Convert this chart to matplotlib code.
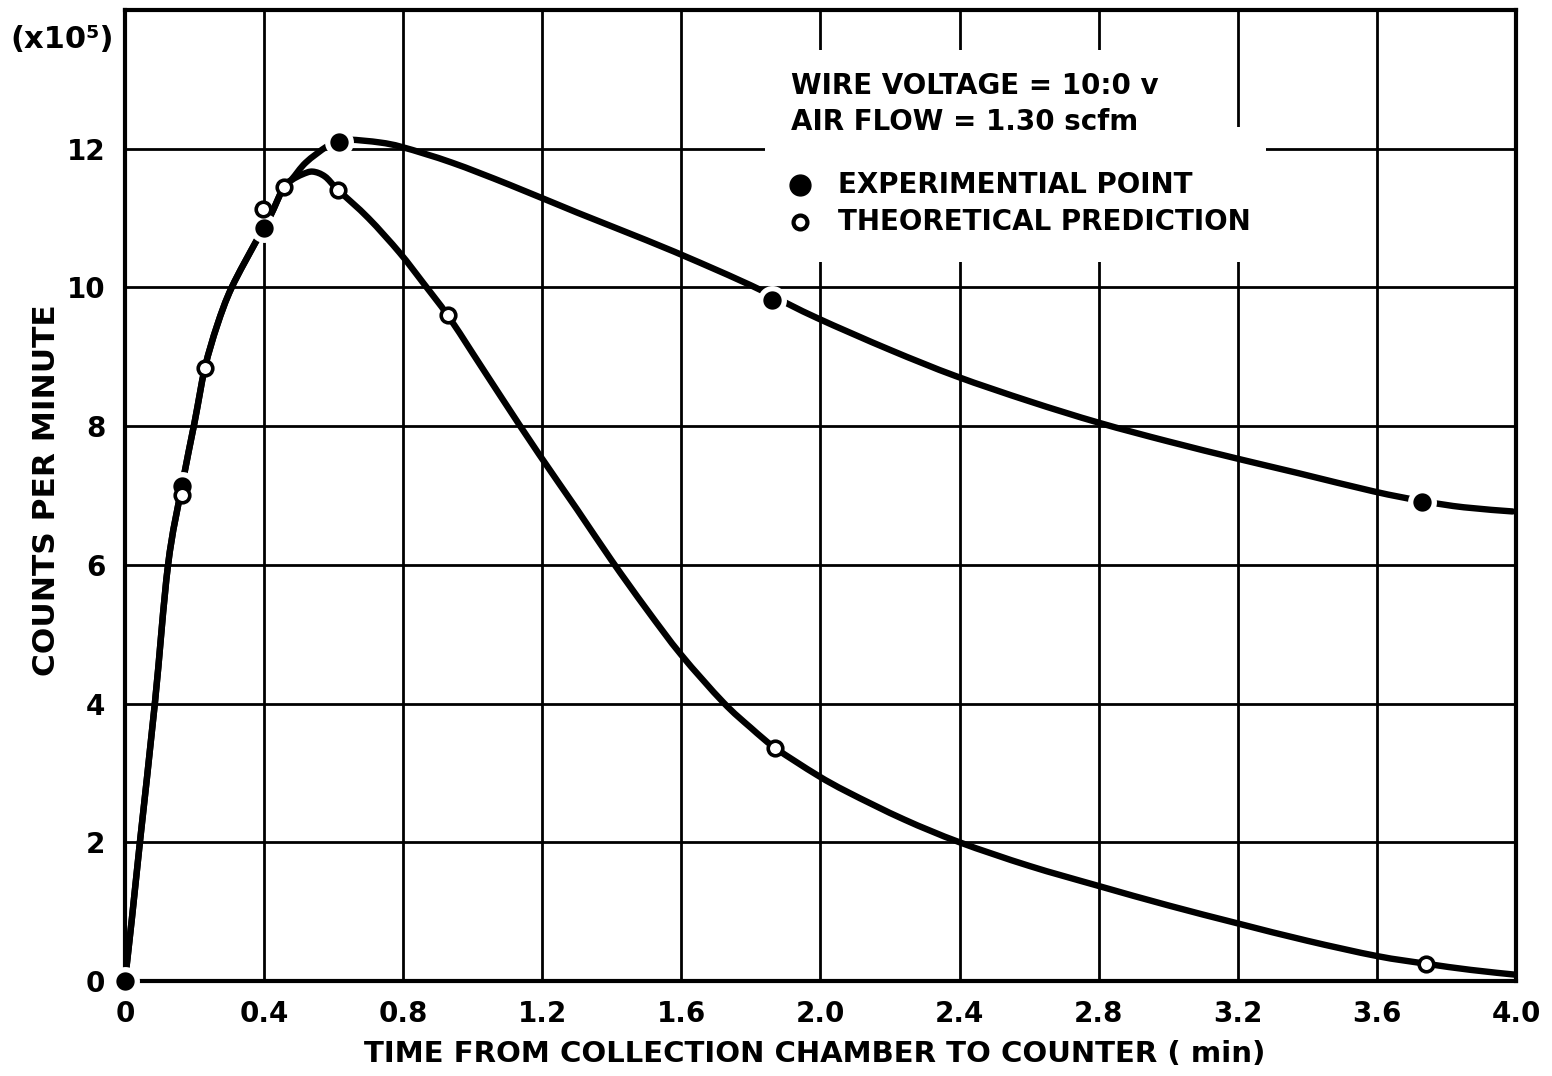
import numpy as np
from matplotlib import pyplot as plt
from matplotlib.patches import Rectangle, PathPatch
from matplotlib.path import Path

# measured points
exp_x = [0.0, 0.164, 0.40, 0.615, 1.86, 3.73]
exp_y = [0.0, 7.14, 10.85, 12.1, 9.82, 6.91]
theo_x = [0.164, 0.23, 0.397, 0.457, 0.612, 0.928, 1.87, 3.74]
theo_y = [7.0, 8.84, 11.13, 11.45, 11.41, 9.6, 3.36, 0.25]

# hand drawn curves
upper_x = [0.0, 0.02, 0.043, 0.086, 0.124, 0.164, 0.20, 0.23, 0.265, 0.307, 0.38, 0.417,
           0.457, 0.48, 0.52, 0.58, 0.615, 0.647, 0.733, 0.80, 0.94, 1.106, 1.30, 1.50,
           1.652, 1.80, 1.86, 1.99, 2.20, 2.39, 2.60, 2.80, 3.00, 3.20, 3.376, 3.59, 3.73,
           3.85, 3.99]
upper_y = [0.0, 0.9, 2.0, 4.0, 6.0, 7.14, 8.05, 8.84, 9.45, 10.0, 10.69, 11.02,
           11.45, 11.56, 11.8, 12.03, 12.1, 12.13, 12.09, 12.02, 11.8, 11.48, 11.08, 10.68,
           10.36, 10.03, 9.88, 9.56, 9.1, 8.72, 8.36, 8.05, 7.78, 7.53, 7.32, 7.06, 6.92,
           6.83, 6.77]
lower_x = [0.0, 0.02, 0.043, 0.086, 0.124, 0.164, 0.20, 0.23, 0.265, 0.307, 0.38, 0.417,
           0.457, 0.48, 0.51, 0.54, 0.575, 0.612, 0.70, 0.79, 0.86, 0.928, 1.0, 1.087,
           1.19, 1.30, 1.40, 1.50, 1.60, 1.72, 1.80, 1.87, 1.99, 2.08, 2.24, 2.40, 2.60,
           2.80, 3.00, 3.20, 3.40, 3.60, 3.74, 3.87, 4.0]
lower_y = [0.0, 0.9, 2.0, 4.0, 6.0, 7.14, 8.05, 8.84, 9.45, 10.0, 10.69, 11.02,
           11.45, 11.55, 11.63, 11.67, 11.6, 11.41, 11.0, 10.5, 10.05, 9.6, 9.05, 8.38,
           7.6, 6.8, 6.06, 5.36, 4.70, 4.02, 3.65, 3.36, 2.97, 2.72, 2.33, 2.0, 1.66,
           1.37, 1.09, 0.83, 0.58, 0.36, 0.25, 0.16, 0.09]

x_ticks = [0, 0.4, 0.8, 1.2, 1.6, 2.0, 2.4, 2.8, 3.2, 3.6, 4.0]
x_labels = ['0', '0.4', '0.8', '1.2', '1.6', '2.0', '2.4', '2.8', '3.2', '3.6', '4.0']
y_ticks = [0, 2, 4, 6, 8, 10, 12]
y_labels = ['0', '2', '4', '6', '8', '10', '12']


def french_curve(xs, ys):
    # smooth path through the read points (catmull-rom as bezier segments)
    p = np.column_stack([xs, ys]).astype(float)
    p = np.vstack([p[0], p, p[-1]])
    verts = [p[1]]
    codes = [Path.MOVETO]
    for i in range(1, len(p) - 2):
        c1 = p[i] + (p[i + 1] - p[i - 1]) / 6.0
        c2 = p[i + 1] - (p[i + 2] - p[i]) / 6.0
        verts += [c1, c2, p[i + 1]]
        codes += [Path.CURVE4] * 3
    return Path(verts, codes)


plt.rcParams['font.family'] = ['DejaVu Sans']
plt.rcParams['font.weight'] = 'bold'

fig = plt.figure(figsize=(15.52, 10.76), dpi=100)
ax = fig.add_axes([0.0805, 0.0883, 0.8963, 0.9024])
ax.set_xlim(0, 4.0)
ax.set_ylim(0, 14)

# grid every 0.4 x 2
for gx in np.arange(0.4, 4.0, 0.4):
    ax.axvline(gx, color='black', lw=2.0, zorder=1)
for gy in range(2, 14, 2):
    ax.axhline(gy, color='black', lw=2.0, zorder=1)

# blank area behind the note
ax.add_patch(Rectangle((1.84, 10.36), 1.44, 1.96, facecolor='white', edgecolor='none', zorder=2))
ax.add_patch(Rectangle((1.84, 12.3), 1.26, 1.13, facecolor='white', edgecolor='none', zorder=2))

for xs, ys in [(upper_x, upper_y), (lower_x, lower_y)]:
    ax.add_patch(PathPatch(french_curve(xs, ys), fill=False, edgecolor='black', lw=4.6,
                           capstyle='round', joinstyle='round', zorder=3))

ax.plot(exp_x, exp_y, 'o', color='black', ms=17, mec='white', mew=3.8,
        zorder=5, clip_on=False)
ax.plot(theo_x, theo_y, 'o', mfc='white', mec='black', ms=10.5, mew=2.6,
        zorder=6, clip_on=False)

for s in ax.spines.values():
    s.set_linewidth(3.0)
    s.set_zorder(4)

ax.set_xticks(x_ticks)
ax.set_xticklabels(x_labels, fontsize=20, fontweight='bold')
ax.set_yticks(y_ticks)
ax.set_yticklabels(y_labels, fontsize=20, fontweight='bold')
ax.tick_params(length=0, pad=14)

fig.text(815 / 1552, 1 - 1054 / 1076, 'TIME FROM COLLECTION CHAMBER TO COUNTER ( min)',
         ha='center', va='center', fontsize=21, fontweight='bold')
fig.text(47 / 1552, 1 - 490 / 1076, 'COUNTS PER MINUTE', rotation=90,
         ha='center', va='center', fontsize=22.5, fontweight='bold')
fig.text(62 / 1552, 1 - 40 / 1076, '(x10\u2075)', ha='center', va='center',
         fontsize=22, fontweight='bold')

# note / key
ax.text(1.915, 12.9, 'WIRE VOLTAGE = 10:0 v', fontsize=20, fontweight='bold', va='center')
ax.text(1.915, 12.39, 'AIR FLOW = 1.30 scfm', fontsize=20, fontweight='bold', va='center')
ax.plot([1.94], [11.47], 'o', color='black', ms=15, zorder=5)
ax.text(2.05, 11.47, 'EXPERIMENTIAL POINT', fontsize=20, fontweight='bold', va='center')
ax.plot([1.94], [10.95], 'o', mfc='white', mec='black', ms=10, mew=3, zorder=6)
ax.text(2.05, 10.95, 'THEORETICAL PREDICTION', fontsize=20, fontweight='bold', va='center')

plt.savefig('out.png', dpi=100)
